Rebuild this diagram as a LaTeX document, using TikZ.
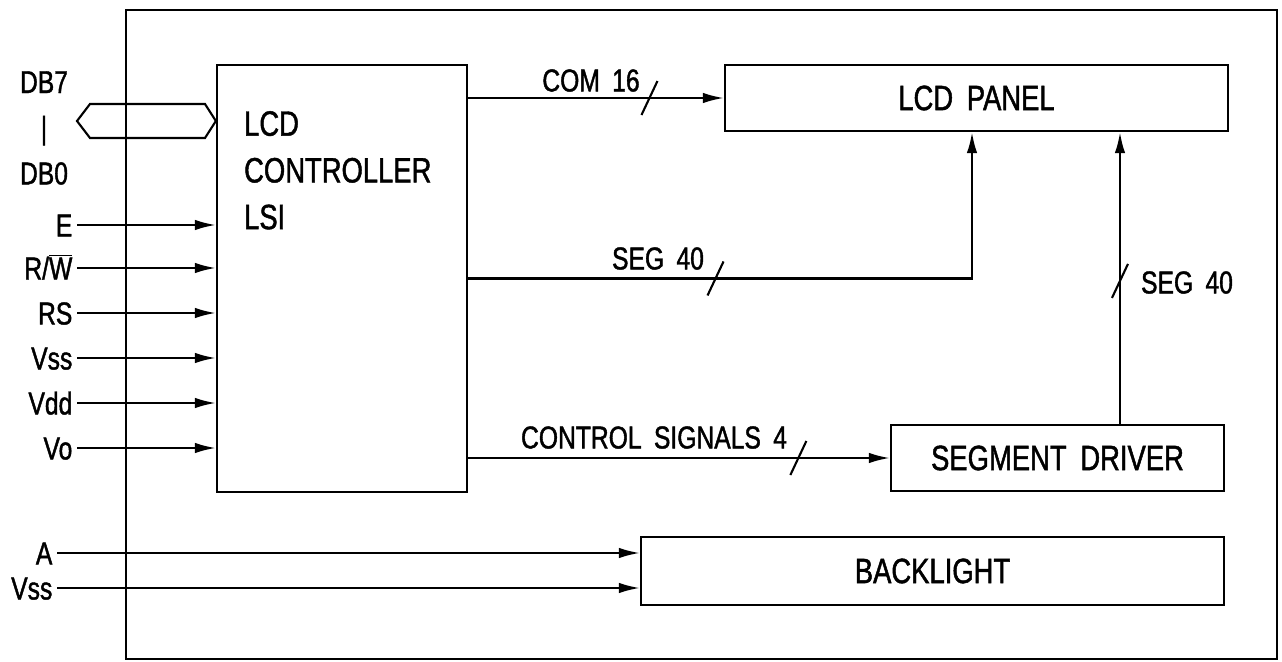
\documentclass[tikz,border=0pt]{standalone}
\usepackage{fontspec}
\usetikzlibrary{arrows.meta,calc}
\newfontfamily\lcdfont[FakeStretch=0.78,FakeBold=1.3,WordSpace=1.8]{Liberation Sans}
\begin{document}
\begin{tikzpicture}[x=0.02cm,y=-0.02cm,
  line width=1.3pt,
  box/.style={draw,line width=1.3pt,inner sep=0pt,font=\lcdfont\fontsize{20}{24}\selectfont},
  lbl/.style={inner sep=2pt,font=\lcdfont\fontsize{18}{22}\selectfont,text height=13pt,text depth=0pt},
  arr/.style={-{Latex[length=12pt,width=6pt]}},
  slash/.pic={\draw[line width=1.2pt] (-8,17) -- (8,-17);}
]
\useasboundingbox (0,0) rectangle (1282,662);
% outer frame
\draw[line width=1.1pt] (126,10) rectangle (1277,659);
% blocks
\node[box,minimum width=5cm,minimum height=8.54cm] (ctrl) at (342,278.5) {};
\node[font=\lcdfont\fontsize{20}{26.6}\selectfont,align=left,anchor=north west,inner sep=0pt] (ctrltxt) at (243,110) {LCD\\CONTROLLER\\LSI};
\node[box,minimum width=10.06cm,minimum height=1.32cm] (panel) at (976.5,98) {LCD PANEL};
\node[box,minimum width=6.66cm,minimum height=1.32cm] (segdrv) at (1057.5,458) {SEGMENT DRIVER};
\node[box,minimum width=11.66cm,minimum height=1.36cm] (back) at (932.5,571) {BACKLIGHT};
% data bus
\node[lbl,align=center,font=\lcdfont\fontsize{18}{40}\selectfont,text height=,text depth=] (db) at (44,128) {DB7\\[-14pt]|\\[-14pt]DB0};
\draw[line width=1.2pt] (ctrl.west |- 0,121) -- (205,104) -- (90,104) -- (77,121) -- (90,138) -- (205,138) -- cycle;
% control inputs
\foreach \n/\t/\y in {E/E/225, RW/{R/$\overline{\hbox{W}}$}/268, RS/RS/313, Vss/Vss/358, Vdd/Vdd/403, Vo/Vo/448}{
  \node[lbl,anchor=east] (\n) at (77,\y) {\t};
  \draw[arr] (\n.east) -- (\n.east -| ctrl.west);
}
% backlight inputs
\node[lbl,anchor=east] (A) at (57,553) {A};
\draw[arr] (A.east) -- (A.east -| back.west);
\node[lbl,anchor=east] (Vssb) at (57,588) {Vss};
\draw[arr] (Vssb.east) -- (Vssb.east -| back.west);
% COM 16
\draw[arr] (ctrl.east |- panel.west) -- coordinate[pos=0.709] (s1) (panel.west);
\pic at (s1) {slash};
\node[lbl] (com) at (591,80) {COM 16};
% SEG 40 horizontal
\draw[arr] (ctrl.east) -- coordinate[pos=0.491] (s2) ([xshift=-0.09cm]ctrl.east -| panel.south) -- ([xshift=-0.09cm]panel.south);
\pic at (s2) {slash};
\node[lbl] (seg1) at (658,258) {SEG 40};
% SEG 40 vertical
\draw[arr] ([xshift=1.25cm]segdrv.north) -- coordinate[pos=0.49] (s3) ([xshift=1.25cm]segdrv.north |- panel.south);
\pic at (s3) {slash};
\node[lbl] (seg2) at (1187,282) {SEG 40};
% control signals
\draw[arr] (ctrl.east |- segdrv.west) -- coordinate[pos=0.783] (s4) (segdrv.west);
\pic at (s4) {slash};
\node[lbl] (cs) at (654,437) {CONTROL SIGNALS 4};
\end{tikzpicture}
\end{document}
